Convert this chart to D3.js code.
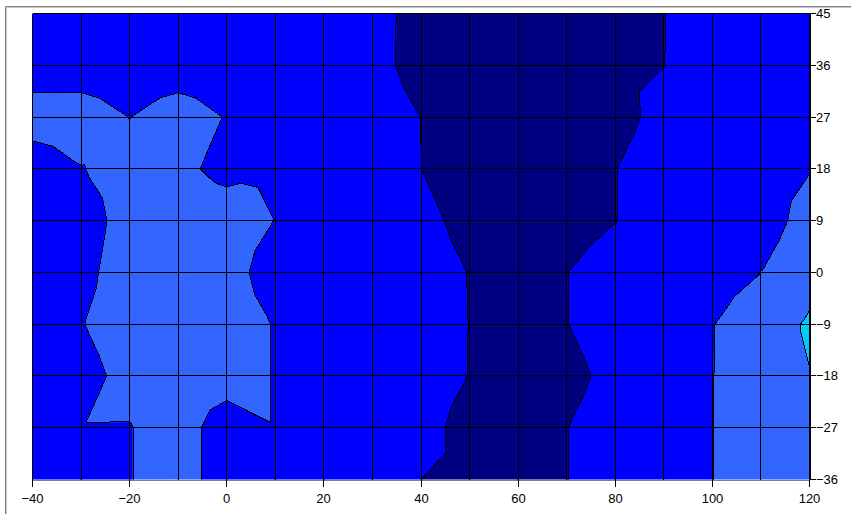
<!DOCTYPE html>
<html>
<head>
<meta charset="utf-8">
<script src="https://cdn.jsdelivr.net/npm/d3@7"></script>
<style>
  body { margin: 0; background: #fff; }
  svg { display: block; }
  .axis text { font-family: "Liberation Sans", Arial, sans-serif; font-size: 13px; fill: #000; }
</style>
</head>
<body>
<svg id="chart" width="851" height="514"></svg>
<script>
// Grid positions (categories along x, series along y)
const xValues = [-40, -30, -20, -10, 0, 10, 20, 30, 40, 50, 60, 70, 80, 90, 100, 110, 120];
const yValues = [45, 36, 27, 18, 9, 0, -9, -18, -27, -36];

// Axis labels
const xTickLabels = [-40, -20, 0, 20, 40, 60, 80, 100, 120];
const yTickLabels = [45, 36, 27, 18, 9, 0, -9, -18, -27, -36];

// Contour levels and the colour of each band between them (lowest first)
const levels = [10, 20, 30];
const bandColors = ["#000080", "#0000ff", "#3366ff", "#00ccff"];

// Surface values, one row per series (y = 45 at the top down to y = -36)
const row45  = [15, 15, 15, 15, 15, 14, 14, 12, 7.9, 5, 5, 5, 6, 9.8, 15, 15, 15];
const row36  = [15.5, 15.5, 15, 15.5, 15, 14, 14, 12, 7.8, 5, 5, 5, 6, 9.9, 15, 15, 15];
const row27  = [24, 24, 19.9, 24, 19.6, 15, 14, 13, 9.94, 5, 5, 5, 7, 12.8, 15, 15, 15];
const row18  = [15.3, 19.7, 23, 22.1, 17.5, 15, 14, 13, 10.05, 5, 5, 6, 9.8, 14.8, 15, 16, 19.56];
const row9   = [15, 16, 23.5, 25, 24.6, 19.8, 15, 13, 12.5, 7.3, 5, 6, 9.8, 14.8, 15, 15.1, 24];
const row0   = [15, 17.5, 24.4, 25, 24, 15.3, 14, 13, 14, 9.74, 5, 9.85, 15, 15, 16, 19.95, 27.3];
const rowM9  = [15, 19.6, 24.6, 25, 24.5, 19.5, 15, 13, 14, 9.88, 5, 9.8, 15, 15, 19.7, 25.7, 31];
const rowM18 = [15, 17, 22.7, 25, 24.5, 19.5, 15, 13, 14, 9.79, 5, 7, 13, 15, 19.8, 26, 29.8];
const rowM27 = [15, 19.7, 19.65, 24.6, 15, 19.5, 14, 13, 13, 7, 5, 9.85, 15, 15, 19.8, 26, 26];
const rowM36 = [15, 15, 19.65, 24.6, 15, 15, 14, 13, 10.02, 6, 5, 9.85, 15, 15, 19.8, 26, 26];
const surface = [row45, row36, row27, row18, row9, row0, rowM9, rowM18, rowM27, rowM36];

// Cell-centre values [column, row, value] where the surface is not the plain
// average of the four corners of that cell
const centreOverrides = [[4, 3, 22], [12, 1, 10], [1, 7, 21.17], [4, 7, 22], [8, 8, 10]];

const svg = d3.select("#chart");
const x = d3.scaleLinear().domain([-40, 120]).range([32.5, 809.5]);
const y = d3.scaleLinear().domain([-36, 45]).range([479.5, 13.5]);
const px = v => Math.round(x(v) - 0.5) + 0.5;
const py = v => Math.round(y(v) - 0.5) + 0.5;

// Outer chart frame
svg.append("path").attr("d", "M5.5,514V6.5H851").attr("fill", "none")
  .attr("stroke", "#808080").attr("stroke-width", 1);
svg.append("path").attr("d", "M6.5,514V7.5H851").attr("fill", "none")
  .attr("stroke", "#c8c8c8").attr("stroke-width", 1);

// Keep only the part of a polygon on one side of a level (values interpolated linearly)
function clip(poly, t, keepAbove) {
  const out = [];
  for (let k = 0; k < poly.length; k++) {
    const a = poly[k], b = poly[(k + 1) % poly.length];
    const ina = keepAbove ? a.v >= t : a.v < t;
    const inb = keepAbove ? b.v >= t : b.v < t;
    if (ina) out.push(a);
    if (ina !== inb) {
      const s = (t - a.v) / (b.v - a.v);
      out.push({ x: a.x + s * (b.x - a.x), y: a.y + s * (b.y - a.y), v: t });
    }
  }
  return out;
}

const centreMap = new Map(centreOverrides.map(([i, j, v]) => [i + "," + j, v]));
const lo = [-Infinity, ...levels], hi = [...levels, Infinity];
const bandPolys = bandColors.map(() => []);
const isoSegs = [];

// Each grid cell is split into four triangles around its centre
for (let j = 0; j < yValues.length - 1; j++) {
  for (let i = 0; i < xValues.length - 1; i++) {
    const node = (ii, jj) => ({ x: xValues[ii], y: yValues[jj], v: surface[jj][ii] });
    const tl = node(i, j), tr = node(i + 1, j), bl = node(i, j + 1), br = node(i + 1, j + 1);
    const key = i + "," + j;
    const cv = centreMap.has(key) ? centreMap.get(key) : (tl.v + tr.v + bl.v + br.v) / 4;
    const c = { x: (tl.x + tr.x) / 2, y: (tl.y + bl.y) / 2, v: cv };
    const tris = [[tl, tr, c], [tr, br, c], [br, bl, c], [bl, tl, c]];
    for (const tri of tris) {
      for (let b = 0; b < bandColors.length; b++) {
        let poly = tri;
        if (isFinite(lo[b])) poly = clip(poly, lo[b], true);
        if (poly.length >= 3 && isFinite(hi[b])) poly = clip(poly, hi[b], false);
        if (poly.length >= 3) bandPolys[b].push(poly);
      }
      for (const t of levels) {
        const pts = [];
        for (let k = 0; k < 3; k++) {
          const a = tri[k], b = tri[(k + 1) % 3];
          if ((a.v >= t) !== (b.v >= t)) {
            const s = (t - a.v) / (b.v - a.v);
            pts.push([a.x + s * (b.x - a.x), a.y + s * (b.y - a.y)]);
          }
        }
        if (pts.length === 2) isoSegs.push(pts);
      }
    }
  }
}

svg.append("clipPath").attr("id", "plotClip").append("rect")
  .attr("x", x(-40)).attr("y", y(45)).attr("width", x(120) - x(-40)).attr("height", y(-36) - y(45));

const plot = svg.append("g").attr("clip-path", "url(#plotClip)");

const polyPath = polys => polys.map(p =>
  p.map((q, k) => (k ? "L" : "M") + x(q.x).toFixed(2) + "," + y(q.y).toFixed(2)).join("") + "Z").join("");

plot.selectAll("path.band").data(bandPolys).join("path")
  .attr("class", "band")
  .attr("d", polyPath)
  .attr("fill", (d, b) => bandColors[b])
  .attr("stroke", (d, b) => bandColors[b])
  .attr("stroke-width", 0.8)
  .attr("stroke-linejoin", "round");

// Contour boundary lines
plot.append("path")
  .attr("d", isoSegs.map(s => "M" + x(s[0][0]).toFixed(2) + "," + y(s[0][1]).toFixed(2) +
    "L" + x(s[1][0]).toFixed(2) + "," + y(s[1][1]).toFixed(2)).join(""))
  .attr("fill", "none").attr("stroke", "#000").attr("stroke-width", 1)
  .attr("shape-rendering", "crispEdges");

// Gridlines at every category and series
const grid = svg.append("g").attr("shape-rendering", "crispEdges");
grid.selectAll("line.v").data(xValues).join("line").attr("class", "v")
  .attr("x1", d => px(d)).attr("x2", d => px(d)).attr("y1", py(45)).attr("y2", py(-36))
  .attr("stroke", "#000");
grid.selectAll("line.h").data(yValues.slice(0, -1)).join("line").attr("class", "h")
  .attr("x1", px(-40)).attr("x2", px(120)).attr("y1", d => py(d)).attr("y2", d => py(d))
  .attr("stroke", "#000");

// Bottom axis
const xAxis = svg.append("g").attr("class", "axis")
  .attr("transform", `translate(0,${py(-36)})`)
  .call(d3.axisBottom(x).tickValues(xTickLabels).tickSize(7).tickSizeOuter(0).tickPadding(7.5));
xAxis.select(".domain").attr("stroke", "#808080").attr("shape-rendering", "crispEdges");
xAxis.selectAll(".tick").attr("transform", d => `translate(${px(d)},0)`);
xAxis.selectAll(".tick line").attr("stroke", "#000").attr("shape-rendering", "crispEdges");
xAxis.attr("font-family", null).attr("font-size", null);

// Right-hand series axis
const yAxis = svg.append("g").attr("class", "axis")
  .attr("transform", `translate(${px(120)},0)`)
  .call(d3.axisRight(y).tickValues(yTickLabels).tickSize(6).tickSizeOuter(0).tickPadding(0.5));
yAxis.select(".domain").attr("stroke", "#000").attr("shape-rendering", "crispEdges");
yAxis.selectAll(".tick").attr("transform", d => `translate(0,${py(d)})`);
yAxis.selectAll(".tick line").attr("stroke", "#000").attr("shape-rendering", "crispEdges");
yAxis.attr("font-family", null).attr("font-size", null);
</script>
</body>
</html>
